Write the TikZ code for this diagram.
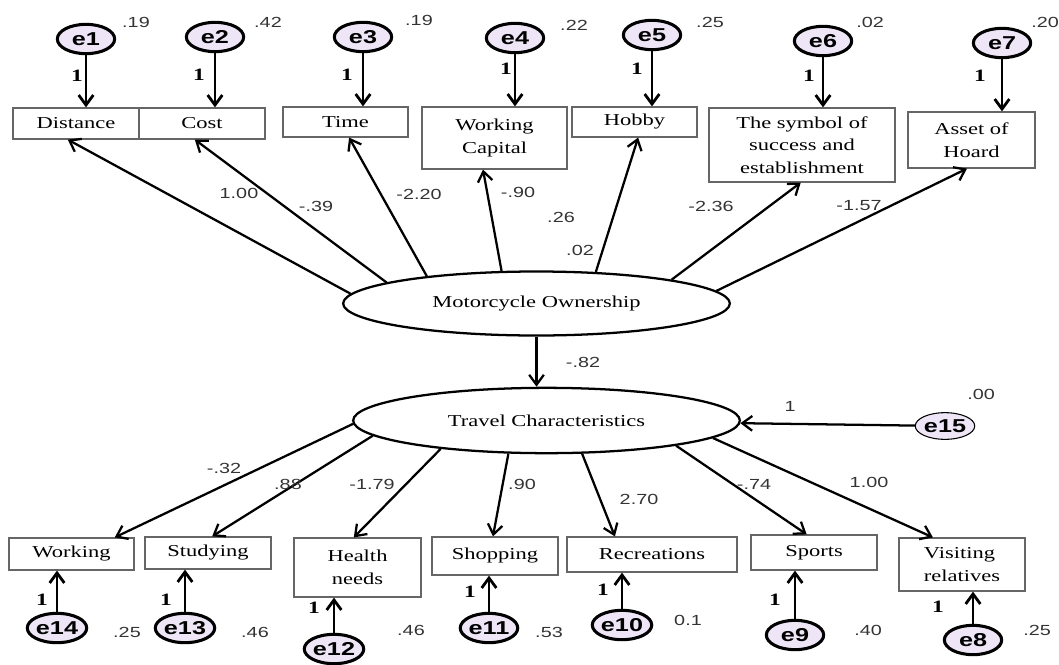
\documentclass[tikz,border=0pt]{standalone}
\usepackage{fontspec}
\setmainfont{Liberation Serif}[FakeStretch=1.35]
\newfontfamily\coeffont{Liberation Sans}[FakeStretch=1.35]
\usetikzlibrary{arrows.meta,shapes.geometric}
\definecolor{errfill}{HTML}{EEE6F6}
\tikzset{every picture/.style={line width=0.75pt}}
\tikzset{
  obsbox/.style={draw=black!60, line width=0.9pt, rectangle, inner sep=1pt, align=center, font=\fontsize{12.5}{17}\selectfont},
  latent/.style={draw, ellipse, line width=1.7pt, inner sep=0pt, minimum width=290pt, minimum height=48pt, font=\fontsize{12.5}{15}\selectfont},
  errnode/.style={draw, ellipse, line width=2.3pt, fill=errfill, inner sep=0pt, minimum width=43pt, minimum height=22pt, font=\coeffont\bfseries\fontsize{14}{14}\selectfont},
  reg/.style={-{Straight Barb[length=7.5pt,width=11pt]}, line width=1.7pt},
  errpath/.style={-{Straight Barb[length=7.5pt,width=11pt]}, line width=2.1pt},
  coef/.style={inner sep=0.75pt, text=black!80, font=\coeffont\fontsize{11}{12}\selectfont},
  unit/.style={inner sep=0.75pt, font=\bfseries\fontsize{13}{14}\selectfont}
}

\begin{document}
\begin{tikzpicture}[x=0.75pt,y=0.75pt,yscale=-1,xscale=1]
\useasboundingbox (0,0) rectangle (1059,664);

%Shape: Ellipse [latent]
\node [latent] (mo) at (536.5,303.5) {Motorcycle Ownership};
%Shape: Ellipse [latent]
\node [latent, minimum height=49pt] (tc) at (546.5,420.5) {Travel Characteristics};

%Shape: Rectangle [top row]
\node [obsbox, minimum width=94.5pt, minimum height=23.25pt] (dist) at (76,123.5) {Distance};
\node [obsbox, minimum width=94.5pt, minimum height=23.25pt] (cost) at (202,123.5) {Cost};
\node [obsbox, minimum width=93.75pt, minimum height=22.5pt] (time) at (345.5,122) {Time};
\node [obsbox, minimum width=108.75pt, minimum height=46.5pt] (wcap) at (494.5,138) {Working\\Capital};
\node [obsbox, minimum width=93.75pt, minimum height=22.5pt] (hobby) at (634.5,122) {Hobby};
\node [obsbox, minimum width=139.5pt, minimum height=55.5pt] (symb) at (802,145) {The symbol of\\success and\\establishment};
\node [obsbox, minimum width=95.25pt, minimum height=42pt] (asset) at (971.5,140) {Asset of\\Hoard};

%Shape: Rectangle [bottom row]
\node [obsbox, minimum width=93.75pt, minimum height=24pt] (work) at (71.5,554) {Working};
\node [obsbox, minimum width=94.5pt, minimum height=24pt] (study) at (208,553) {Studying};
\node [obsbox, minimum width=95.25pt, minimum height=44.25pt] (health) at (357.5,567.5) {Health\\needs};
\node [obsbox, minimum width=94.5pt, minimum height=28.5pt] (shop) at (495,556) {Shopping};
\node [obsbox, minimum width=127.5pt, minimum height=26.25pt] (recr) at (652,554.5) {Recreations};
\node [obsbox, minimum width=94.5pt, minimum height=26.25pt] (sport) at (814,552.5) {Sports};
\node [obsbox, minimum width=94.5pt, minimum height=39.75pt, align=left] (visit) at (962,564.5) {Visiting\\relatives};

%Shape: Circle [errors]
\node [errnode] (e1) at (86,39) {e1};
\node [errnode] (e2) at (215,37) {e2};
\node [errnode] (e3) at (363,37) {e3};
\node [errnode] (e4) at (515,38) {e4};
\node [errnode] (e5) at (652,35) {e5};
\node [errnode] (e6) at (823,41) {e6};
\node [errnode] (e7) at (1002,43) {e7};
\node [errnode] (e8) at (973,640) {e8};
\node [errnode] (e9) at (795,635) {e9};
\node [errnode] (e10) at (622,625) {e10};
\node [errnode] (e11) at (489,628) {e11};
\node [errnode] (e12) at (334,649) {e12};
\node [errnode] (e13) at (185,628) {e13};
\node [errnode] (e14) at (57,628) {e14};
\node [errnode, line width=0.8pt, minimum width=39pt, minimum height=20pt] (e15) at (945,426) {e15};

%Straight Lines [ownership -> indicators]
\draw [reg] (mo.177) -- (dist.243);
\draw [reg] (mo.172) -- (cost.246);
\draw [reg] (mo.166) -- (time.283);
\draw [reg] (mo.137) -- (wcap.250);
\draw [reg] (mo.28) -- (hobby.283);
\draw [reg] (mo.10) -- (symb.268);
\draw [reg] (mo.4) -- (asset.261);
%Straight Lines
\draw [reg] (mo.south) -- (mo.south |- tc.north);
%Straight Lines [characteristics -> indicators]
\draw [reg] (tc.181) -- (work.21);
\draw [reg] (tc.185) -- (study.76);
\draw [reg] (tc.195) -- (health.97);
\draw [reg] (tc.221) -- (shop.96);
\draw [reg] (tc.317) -- (recr.154);
\draw [reg] (tc.349) -- (sport.112);
\draw [reg] (tc.354) -- (visit.137);
%Straight Lines [errors]
\draw [errpath] (e1) -- (e1 |- dist.north);
\draw [errpath] (e2) -- (e2 |- cost.north);
\draw [errpath] (e3) -- (e3 |- time.north);
\draw [errpath] (e4) -- (e4 |- wcap.north);
\draw [errpath] (e5) -- (e5 |- hobby.north);
\draw [errpath] (e6) -- (e6 |- symb.north);
\draw [errpath] (e7) -- (e7 |- asset.north);
\draw [errpath] (e14) -- (e14 |- work.south);
\draw [errpath] (e13) -- (e13 |- study.south);
\draw [errpath] (e12) -- (e12 |- health.south);
\draw [errpath] (e11) -- (e11 |- shop.south);
\draw [errpath] (e10) -- (e10 |- recr.south);
\draw [errpath] (e9) -- (e9 |- sport.south);
\draw [errpath] (e8) -- (e8 |- visit.south);
\draw [reg] (e15) -- (tc);

% Text Node [variances]
\node [coef] (v1) at (136,22) {.19};
\node [coef] (v2) at (268,22) {.42};
\node [coef] (v3) at (419,20) {.19};
\node [coef] (v4) at (574,25) {.22};
\node [coef] (v5) at (710,22) {.25};
\node [coef] (v6) at (870,22) {.02};
\node [coef] (v7) at (1045,22) {.20};
\node [coef] (v8) at (1037,630) {.25};
\node [coef] (v9) at (868,630) {.40};
\node [coef] (v10) at (688,620) {0.1};
\node [coef] (v11) at (549,632) {.53};
\node [coef] (v12) at (411,630) {.46};
\node [coef] (v13) at (255,632) {.46};
\node [coef] (v14) at (127,632) {.25};
\node [coef] (v15) at (981,394) {.00};

% Text Node [fixed loadings]
\node [unit] (u1) at (77,76) {1};
\node [unit] (u2) at (199,75) {1};
\node [unit] (u3) at (347,75) {1};
\node [unit] (u4) at (506,69) {1};
\node [unit] (u5) at (637,69) {1};
\node [unit] (u6) at (809,76) {1};
\node [unit] (u7) at (980,76) {1};
\node [unit] (u8) at (938,607) {1};
\node [unit] (u9) at (775,600) {1};
\node [unit] (u10) at (603,590) {1};
\node [unit] (u11) at (470,592) {1};
\node [unit] (u12) at (314,608) {1};
\node [unit] (u13) at (166,600) {1};
\node [unit] (u14) at (42,600) {1};
\node [coef] (u15) at (790,406) {1};

% Text Node [estimates]
\node [coef] (c1) at (239,193) {1.00};
\node [coef] (c2) at (316,206) {-.39};
\node [coef] (c3) at (419,194) {-2.20};
\node [coef] (c4) at (518,192) {-.90};
\node [coef] (c5) at (561,217) {.26};
\node [coef] (c6) at (580,250) {.02};
\node [coef] (c7) at (711,206) {-2.36};
\node [coef] (c8) at (859,206) {-1.57};
\node [coef] (c9) at (583,362) {-.82};
\node [coef] (c10) at (224,468) {-.32};
\node [coef] (c11) at (288,484) {.88};
\node [coef] (c12) at (372,484) {-1.79};
\node [coef] (c13) at (522,484) {.90};
\node [coef] (c14) at (639,499) {2.70};
\node [coef] (c15) at (754,484) {-.74};
\node [coef] (c16) at (869,482) {1.00};
\end{tikzpicture}
\end{document}
